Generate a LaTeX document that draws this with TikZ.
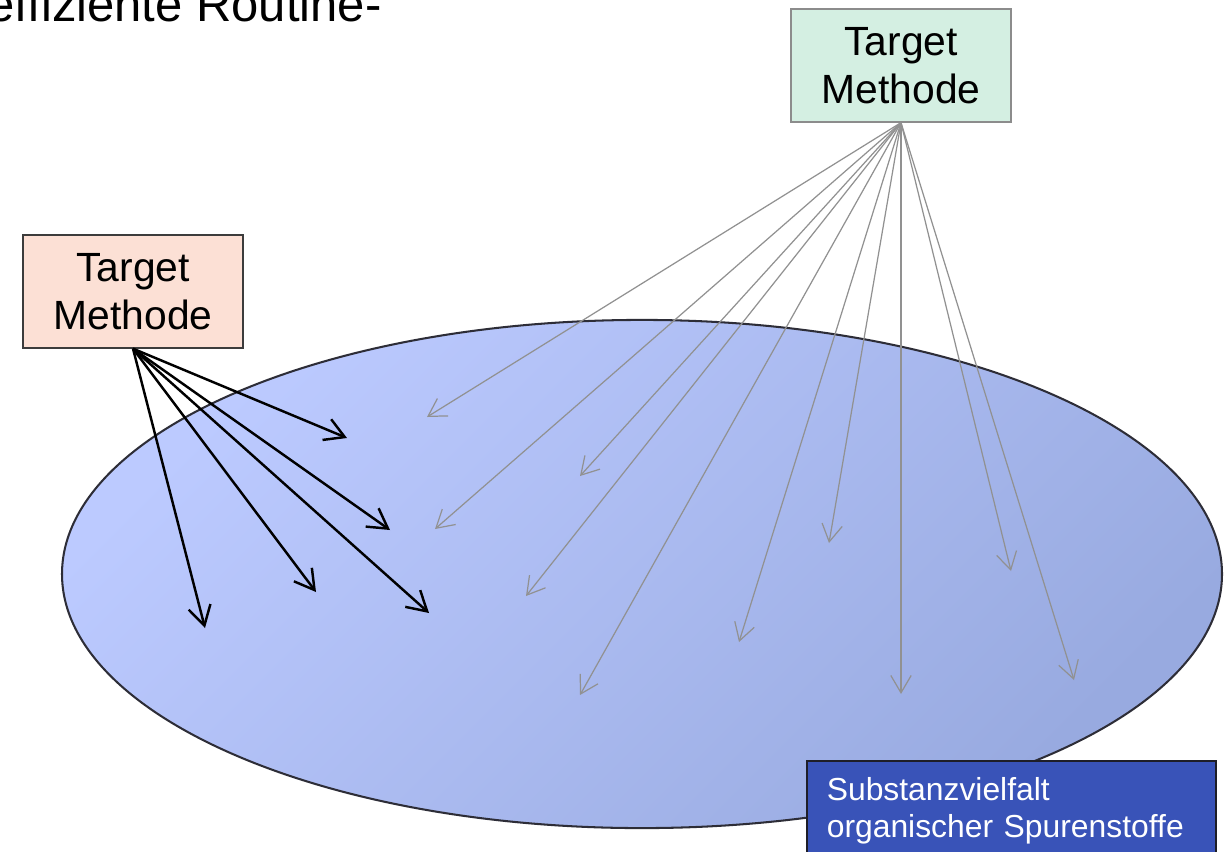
\documentclass[tikz,border=0pt]{standalone}
\usepackage{fontspec}
\setmainfont{Liberation Sans}
\usetikzlibrary{arrows.meta}

\definecolor{boxgreen}{RGB}{212,239,226}
\definecolor{boxpeach}{RGB}{252,224,213}
\definecolor{boxblue}{RGB}{57,83,184}
\definecolor{greenline}{RGB}{140,140,140}
\definecolor{peachline}{RGB}{60,60,60}
\definecolor{blueline}{RGB}{30,30,40}
\definecolor{ellTop}{RGB}{188,202,255}
\definecolor{ellBot}{RGB}{152,170,224}
\definecolor{ellLine}{RGB}{45,45,55}
\definecolor{arrowgray}{RGB}{145,145,145}

\begin{document}
\begin{tikzpicture}[x=0.49pt, y=-0.49pt,
  methodbox/.style={draw, rectangle, line width=0.6pt, minimum width=107.8pt, minimum height=55.4pt, inner sep=0pt, align=center, font=\fontsize{20}{23.5}\selectfont},
  blackarrow/.style={-{Straight Barb[length=9.5pt, width=11pt]}, line width=1.2pt, black},
  grayarrow/.style={-{Straight Barb[length=8.5pt, width=10pt]}, line width=0.6pt, arrowgray}]

  \useasboundingbox (0,0) rectangle (1228,851);
  \clip (0,0) rectangle (1228,851);
  \fill[white] (0,0) rectangle (1228,851);

  % heading (cut off at the top)
  \node (routine) at (382,21) [anchor=base east, inner sep=0pt, font=\fontsize{24}{28}\selectfont] {effiziente Routine-};

  % substance space
  \shade[top color=ellTop, bottom color=ellBot, shading angle=45, draw=ellLine, line width=1pt] (642,574) ellipse [x radius=284.2pt, y radius=124.5pt];

  % target methods
  \node (tmgreen) at (901,65.5) [methodbox, fill=boxgreen, draw=greenline] {Target\\Methode};
  \node (tmpeach) at (133,291.5) [methodbox, fill=boxpeach, draw=peachline] {Target\\Methode};

  % black arrows
  \coordinate (b1) at (347,438);
  \coordinate (b2) at (390,530);
  \coordinate (b3) at (316,592);
  \coordinate (b4) at (429,613);
  \coordinate (b5) at (205,628);
  \draw[blackarrow] (tmpeach.south) -- (b1);
  \draw[blackarrow] (tmpeach.south) -- (b2);
  \draw[blackarrow] (tmpeach.south) -- (b3);
  \draw[blackarrow] (tmpeach.south) -- (b4);
  \draw[blackarrow] (tmpeach.south) -- (b5);

  % gray arrows
  \coordinate (g1) at (427,417);
  \coordinate (g2) at (580,476);
  \coordinate (g3) at (435,529);
  \coordinate (g4) at (526,596);
  \coordinate (g5) at (580,695);
  \coordinate (g6) at (829,543);
  \coordinate (g7) at (739,642);
  \coordinate (g8) at (901,694);
  \coordinate (g9) at (1011,571);
  \coordinate (g10) at (1074,680);
  \draw[grayarrow] (tmgreen.south) -- (g1);
  \draw[grayarrow] (tmgreen.south) -- (g2);
  \draw[grayarrow] (tmgreen.south) -- (g3);
  \draw[grayarrow] (tmgreen.south) -- (g4);
  \draw[grayarrow] (tmgreen.south) -- (g5);
  \draw[grayarrow] (tmgreen.south) -- (g6);
  \draw[grayarrow] (tmgreen.south) -- (g7);
  \draw[grayarrow] (tmgreen.south) -- (g8);
  \draw[grayarrow] (tmgreen.south) -- (g9);
  \draw[grayarrow] (tmgreen.south) -- (g10);

  % label
  \node (vielfalt) at (806,760) [anchor=north west, draw=blueline, fill=boxblue, text=white, line width=0.8pt, text width=181pt, align=left, inner xsep=9.8pt, inner ysep=8pt, font=\fontsize{15.6}{18.1}\selectfont] {Substanzvielfalt\\organischer Spurenstoffe};

\end{tikzpicture}
\end{document}
